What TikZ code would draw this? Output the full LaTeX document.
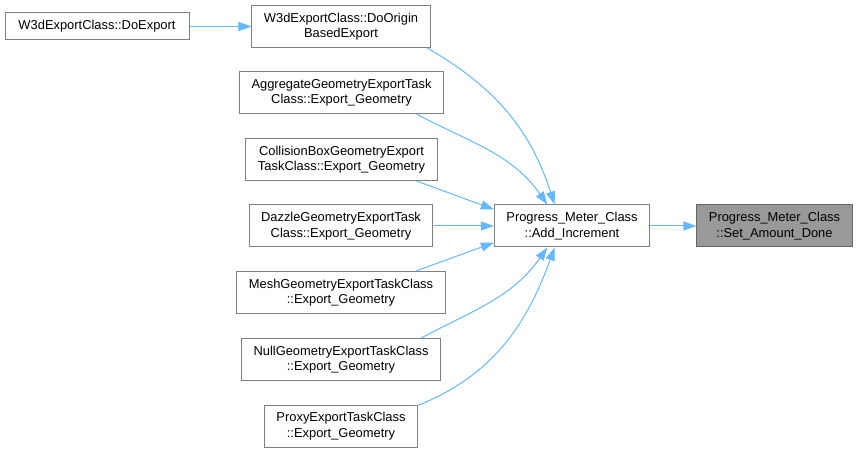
\documentclass[tikz,border=0pt]{standalone}
\usepackage{fontspec}
\setmainfont{Liberation Sans}
\usepackage{tikz}
\usetikzlibrary{arrows.meta, positioning}
\definecolor{edgeblue}{HTML}{63B8FF}
\definecolor{boxline}{HTML}{808080}
\tikzstyle{fnbox}=[draw=boxline, line width=1pt, fill=white, align=center,
  font=\fontsize{12.9}{15.5}\selectfont, inner xsep=12pt, minimum height=42pt]
\tikzstyle{link}=[-{Triangle[length=13pt,width=9pt]}, line width=1pt, color=edgeblue]

\begin{document}
\begin{tikzpicture}[x=1pt, y=1pt]
  \useasboundingbox (0,0) rectangle (857,453);

  % Callers
  \node[fnbox, minimum height=27pt, minimum width=184pt] (doexport) at (97,426.5) {W3dExportClass::DoExport};
  \node[fnbox] (origin)    at (341,426.5) {W3dExportClass::DoOrigin\\BasedExport};
  \node[fnbox] (aggregate) at (341.5,360.5) {AggregateGeometryExportTask\\Class::Export\_Geometry};
  \node[fnbox] (collision) at (341.5,293.5) {CollisionBoxGeometryExport\\TaskClass::Export\_Geometry};
  \node[fnbox] (dazzle)    at (341,227)   {DazzleGeometryExportTask\\Class::Export\_Geometry};
  \node[fnbox] (mesh)      at (341,160.5) {MeshGeometryExportTaskClass\\::Export\_Geometry};
  \node[fnbox] (null)      at (341,93.5)  {NullGeometryExportTaskClass\\::Export\_Geometry};
  \node[fnbox] (proxy)     at (341,27)    {ProxyExportTaskClass\\::Export\_Geometry};

  % Callee chain
  \node[fnbox] (addinc) at (572,227) {Progress\_Meter\_Class\\::Add\_Increment};
  \node[fnbox, fill=black!40, draw=black!60] (setdone) at (774.5,227) {Progress\_Meter\_Class\\::Set\_Amount\_Done};

  % Edges
  \draw[link] (doexport.east) -- (origin.west);
  \draw[link] (origin.-14) to[out=-30, in=108] (addinc.129);
  \draw[link] (aggregate.-16) to[out=-28, in=125] (addinc.139);
  \draw[link] (collision.-16) -- (addinc.168);
  \draw[link] (dazzle.east) -- (addinc.west);
  \draw[link] (mesh.16) -- (addinc.-168);
  \draw[link] (null.15) to[out=28, in=-125] (addinc.-139);
  \draw[link] (proxy.15) to[out=22, in=-110] (addinc.-129);
  \draw[link] (addinc.east) -- (setdone.west);
\end{tikzpicture}
\end{document}
